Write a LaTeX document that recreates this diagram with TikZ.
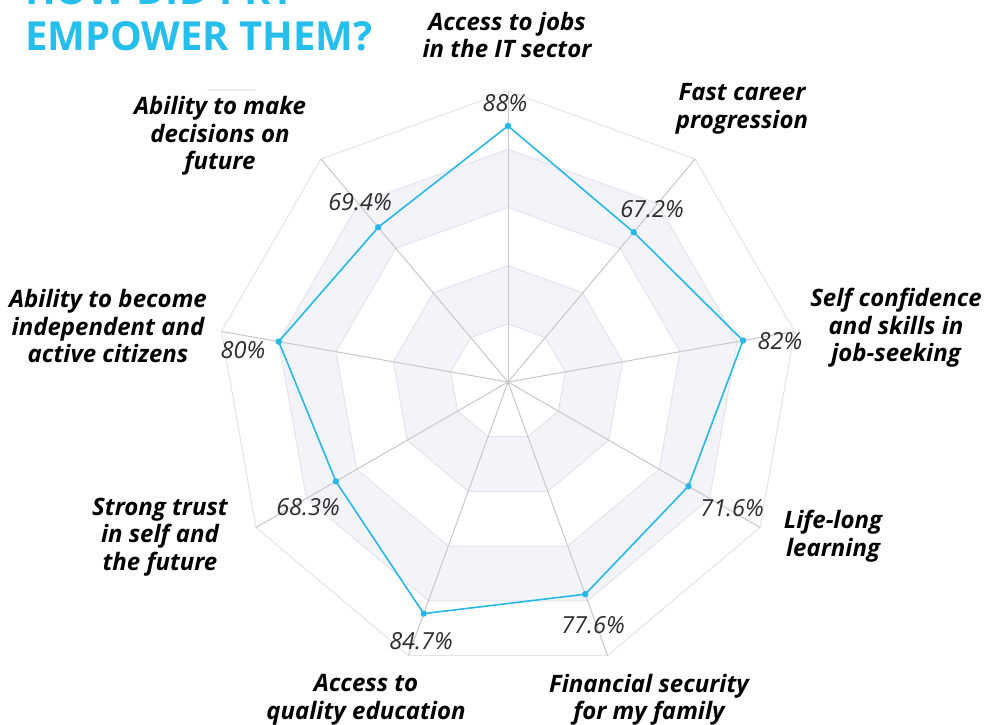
\documentclass[tikz,border=0pt]{standalone}
\usepackage{fontspec}
\setmainfont{Open Sans}
\definecolor{titleblue}{RGB}{38,190,236}
\definecolor{lineblue}{RGB}{40,184,232}
\definecolor{band}{RGB}{243,244,250}
\definecolor{ringc}{RGB}{226,229,238}
\definecolor{spoke}{RGB}{200,200,200}
\definecolor{valc}{RGB}{45,45,45}
\definecolor{faint}{RGB}{238,238,240}
\begin{document}
\begin{tikzpicture}[x=1pt,y=-1pt,
  lbl/.style={font=\fontsize{24}{27.5}\selectfont\bfseries\itshape, align=center, text=black, inner sep=0},
  val/.style={font=\fontsize{23.5}{26}\selectfont\itshape, text=valc, inner sep=0},
  ttl/.style={font=\fontsize{40}{46}\selectfont\bfseries, text=titleblue, inner sep=0, anchor=base west},
  ring/.style={draw=ringc, line width=1},
  spokeline/.style={draw=spoke, line width=1},
  series/.style={draw=lineblue, line width=1.6, line join=round},
  dot/.style={fill=lineblue}]
\useasboundingbox (0,0) rectangle (986,724);
\fill[white] (0,0) rectangle (986,724);
% title
\node[ttl] (t1) at (25,4) {HOW DID PRY};
\node[ttl] (t2) at (25,50) {EMPOWER THEM?};
\draw[faint, line width=2] (207,90) -- (255,90);
\begin{scope}[shift={(508,382)}]
  \coordinate (C) at (0,0);
  % bands
  \fill[band, even odd rule]
    \foreach \r in {58.2,116.4,174.6,232.8}{
      (-90:\r) \foreach \i in {1,...,8}{ -- ({40*\i-90}:\r)} -- cycle };
  % rings
  \foreach \r in {58.2,116.4,174.6,232.8,291}{
    \draw[ring] (-90:\r) \foreach \i in {1,...,8}{ -- ({40*\i-90}:\r)} -- cycle;
  }
  % spokes
  \foreach \i in {0,...,8}{
    \coordinate (o\i) at ({40*\i-90}:291);
    \draw[spokeline] (C) -- (o\i);
  }
  % data
  \foreach \v [count=\i from 0] in {88,67.2,82,71.6,77.6,84.7,68.3,80,69.4}{
    \coordinate (d\i) at ({40*\i-90}:{2.91*\v});
  }
  \draw[series] (d0) -- (d1) -- (d2) -- (d3) -- (d4) -- (d5) -- (d6) -- (d7) -- (d8) -- cycle;
  \foreach \i in {0,...,8}{ \fill[dot] (d\i) circle (3.2); }
\end{scope}
% value labels
\node[val] (v0) at (505,103) {88\%};
\node[val] (v1) at (652,209) {67.2\%};
\node[val] (v2) at (780,341) {82\%};
\node[val] (v3) at (732,508) {71.6\%};
\node[val] (v4) at (593,625) {77.6\%};
\node[val] (v5) at (421,641) {84.7\%};
\node[val] (v6) at (308,507) {68.3\%};
\node[val] (v7) at (243,350) {80\%};
\node[val] (v8) at (360,202) {69.4\%};
% axis labels
\node[lbl] (l0) at (507,35) {Access to jobs\\in the IT sector};
\node[lbl] (l1) at (742,109) {Fast career\\progression};
\node[lbl] (l2) at (896,328) {Self confidence\\and skills in\\job-seeking};
\node[lbl] (l3) at (833,536) {Life-long\\learning};
\node[lbl] (l4) at (649,700) {Financial security\\for my family};
\node[lbl] (l5) at (366,700) {Access to\\quality education};
\node[lbl] (l6) at (160,537) {Strong trust\\in self and\\the future};
\node[lbl] (l7) at (108,326) {Ability to become\\independent and\\active citizens};
\node[lbl] (l8) at (220,136) {Ability to make\\decisions on\\future};
\end{tikzpicture}
\end{document}
